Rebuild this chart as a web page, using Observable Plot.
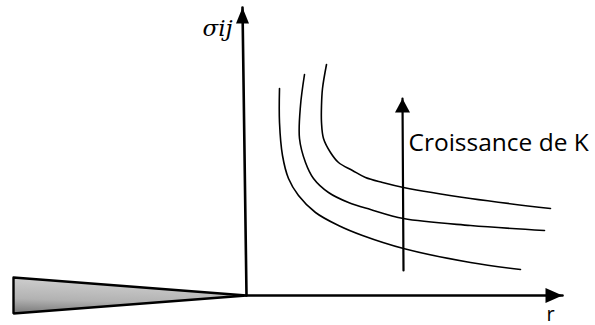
<!DOCTYPE html>
<html><head><meta charset="utf-8">
<script src="https://cdn.jsdelivr.net/npm/d3@7"></script>
<script src="https://cdn.jsdelivr.net/npm/@observablehq/plot@0.6"></script>
<style>html,body{margin:0;padding:0;background:#fff;overflow:hidden}</style>
</head><body><div id="chart"></div>
<script>
// Stress curves sigma_ij(r) for three increasing K values (schematic units)
const curveNames = ["K1", "K2", "K3"];
const curveR = [
  [33, 33, 36, 42, 52, 69, 92, 116, 157, 224, 274],
  [58, 54, 53, 59, 67, 82, 102, 124, 157, 224, 298],
  [80, 76, 75, 75, 77, 84, 92, 106, 119, 136, 157, 224, 304]
];
const curveSigma = [
  [207, 173, 140, 117, 100, 83, 70, 60, 47, 33, 26],
  [221, 190, 157, 133, 117, 103, 93, 86, 77, 70, 65],
  [231, 207, 190, 173, 157, 143, 133, 125, 118, 113, 108, 97, 87]
];
// Axes (start, end)
const yAxisR = [0, -4];
const yAxisSigma = [0, 288];
const xAxisR = [0, 316];
const xAxisSigma = [0, 0];
// "Croissance de K" arrow (start, end)
const kArrowR = [157, 156];
const kArrowSigma = [25, 197];
// Crack wedge outline
const wedgeR = [-233, -233, 0, -233];
const wedgeSigma = [18, -18, 0, 18];
// Labels
const labelTexts = ["σij", "r", "Croissance de K"];
const labelR = [-44, 304, 162];
const labelSigma = [260, -25, 145];

const curves = curveNames.flatMap((k, i) => curveR[i].map((r, j) => ({k, r, s: curveSigma[i][j]})));
const pts = (R, S) => R.map((r, i) => ({r, s: S[i]}));
const yAxis = pts(yAxisR, yAxisSigma);
const xAxis = pts(xAxisR, xAxisSigma);
const kArrow = pts(kArrowR, kArrowSigma);
const wedge = pts(wedgeR, wedgeSigma);

function head(w, h) {
  return {draw(ctx) { ctx.moveTo(0, 0); ctx.lineTo(w / 2, h); ctx.lineTo(-w / 2, h); ctx.closePath(); }};
}

const plot = Plot.plot({
  width: 595, height: 325,
  margin: 0,
  x: {domain: [-246, 349], axis: null},
  y: {domain: [-30, 295], axis: null},
  style: {background: "#fff"},
  marks: [
    Plot.line(wedge, {x: "r", y: "s", fill: "url(#wedgeGrad)", stroke: "black", strokeWidth: 2.4, strokeLinejoin: "miter"}),
    Plot.line(curves, {x: "r", y: "s", z: "k", curve: "catmull-rom", stroke: "black", strokeWidth: 1.6}),
    Plot.line(yAxis, {x: "r", y: "s", stroke: "black", strokeWidth: 2.6}),
    Plot.line(xAxis, {x: "r", y: "s", stroke: "black", strokeWidth: 2.6}),
    Plot.line(kArrow, {x: "r", y: "s", stroke: "black", strokeWidth: 2.2}),
    Plot.dot([yAxis[1]], {x: "r", y: "s", symbol: head(13, 16), fill: "black", stroke: null}),
    Plot.dot([xAxis[1]], {x: "r", y: "s", symbol: head(15, 17), rotate: 90, fill: "black", stroke: null}),
    Plot.dot([kArrow[1]], {x: "r", y: "s", symbol: head(15, 14), fill: "black", stroke: null}),
    Plot.text([0], {x: () => labelR[0], y: () => labelSigma[0], text: () => labelTexts[0], fontFamily: "DejaVu Serif", fontStyle: "italic", fontSize: 23, textAnchor: "start", lineAnchor: "bottom", fill: "black"}),
    Plot.text([1], {x: () => labelR[1], y: () => labelSigma[1], text: () => labelTexts[1], fontFamily: "Open Sans", fontSize: 20, textAnchor: "middle", lineAnchor: "bottom", fill: "black"}),
    Plot.text([2], {x: () => labelR[2], y: () => labelSigma[2], text: () => labelTexts[2], fontFamily: "Open Sans", fontSize: 24.5, textAnchor: "start", lineAnchor: "bottom", fill: "black"})
  ]
});

const defs = d3.select(plot).insert("defs", ":first-child");
const g = defs.append("linearGradient").attr("id", "wedgeGrad")
  .attr("x1", 0).attr("y1", 1).attr("x2", 0.2).attr("y2", 0);
g.append("stop").attr("offset", "0").attr("stop-color", "#777777");
g.append("stop").attr("offset", "0.4").attr("stop-color", "#b2b2b2");
g.append("stop").attr("offset", "1").attr("stop-color", "#cfcfcf");

document.getElementById("chart").appendChild(plot);
</script>
</body></html>
